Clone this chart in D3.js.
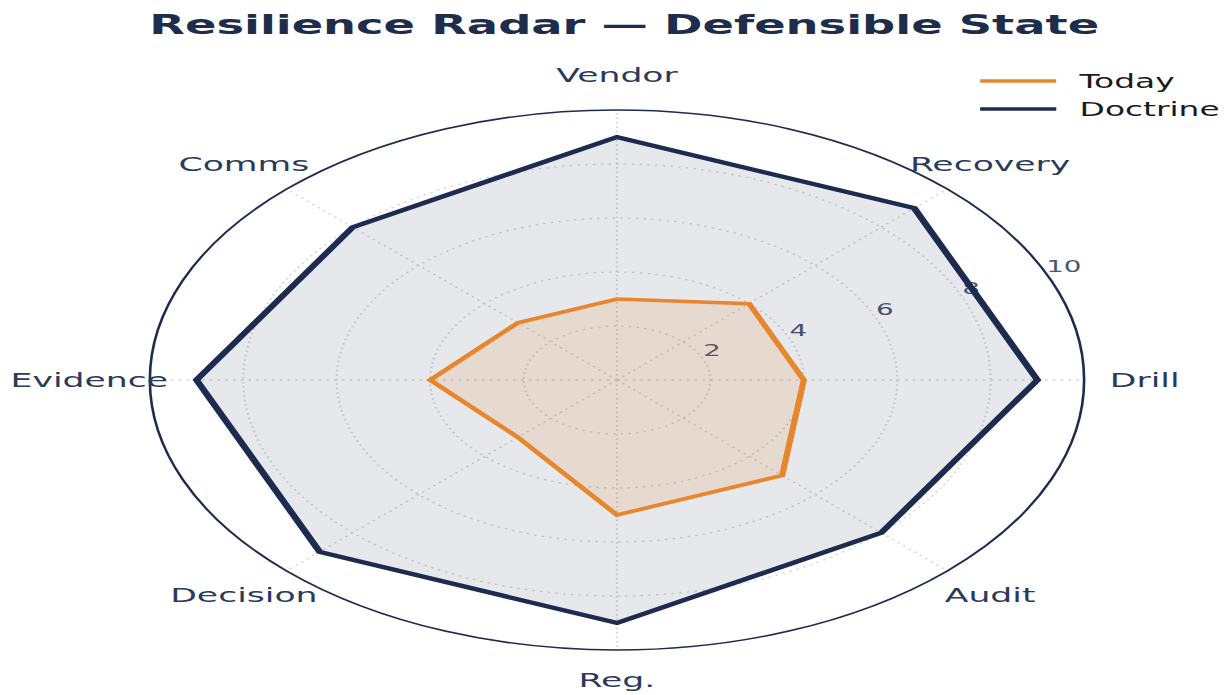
<!DOCTYPE html>
<html>
<head>
<meta charset="utf-8">
<script src="https://cdn.jsdelivr.net/npm/d3@7"></script>
<style>
  html, body { margin: 0; padding: 0; background: #fff; }
  svg { display: block; }
  text { font-family: "DejaVu Sans", sans-serif; }
</style>
</head>
<body>
<div id="chart"></div>
<script>
// data
var axes = ["Drill", "Recovery", "Vendor", "Comms", "Evidence", "Decision", "Reg.", "Audit"];
var today = [4, 4, 3, 3, 4, 3, 5, 5];
var doctrine = [9, 9, 9, 8, 9, 9, 9, 8];
var radialTicks = [2, 4, 6, 8, 10];
var seriesNames = ["Today", "Doctrine"];

// page is 1231x695, drawing space is narrower and stretched to fit
var svgWidth = 1231;
var svgHeight = 695;
var viewW = 711.5;

var cx = 356.6;
var cy = 380;
var radius = 270;

var orange = "#e8862e";
var navy = "#1c2b4f";

var svg = d3.select("#chart")
  .append("svg")
    .attr("width", svgWidth)
    .attr("height", svgHeight)
    .attr("viewBox", "0 0 " + viewW + " " + svgHeight)
    .attr("preserveAspectRatio", "none");

// title
svg.append("text")
  .attr("x", 360.8)
  .attr("y", 34)
  .attr("text-anchor", "middle")
  .style("font-size", "26.8px")
  .style("font-weight", "bold")
  .style("fill", "#1f2d4d")
  .text("Resilience Radar \u2014 Defensible State");

var g = svg.append("g")
  .attr("transform", "translate(" + cx + "," + cy + ")");

var r = d3.scaleLinear().domain([0, 10]).range([0, radius]);

// angle of each category, counterclockwise from the right
var angle = d3.scaleLinear().domain([0, axes.length]).range([0, 2 * Math.PI]);

// grid circles
g.append("g")
  .selectAll("circle")
  .data(radialTicks.filter(function(d) { return d < 10; }))
  .enter()
  .append("circle")
    .attr("r", function(d) { return r(d); })
    .style("fill", "none")
    .style("stroke", "#d6d8de")
    .style("stroke-width", 1.3)
    .style("stroke-dasharray", "1.5,3");

// spokes
g.append("g")
  .selectAll("line")
  .data(axes)
  .enter()
  .append("line")
    .attr("x1", 0)
    .attr("y1", 0)
    .attr("x2", function(d, i) { return r(10) * Math.cos(angle(i)); })
    .attr("y2", function(d, i) { return -r(10) * Math.sin(angle(i)); })
    .style("stroke", "#d6d8de")
    .style("stroke-width", 1.3)
    .style("stroke-dasharray", "1.5,3");

// radial tick labels along 22.5 degrees (under the traces)
var tickAngle = Math.PI / 8;
g.append("g")
  .selectAll("text")
  .data(radialTicks)
  .enter()
  .append("text")
    .attr("x", function(d) {
      var along = r(d) + 4 + 4 * String(d).length;
      return along * Math.cos(tickAngle) - 6 * Math.sin(tickAngle);
    })
    .attr("y", function(d) {
      var along = r(d) + 4 + 4 * String(d).length;
      return -(along * Math.sin(tickAngle) + 6 * Math.cos(tickAngle));
    })
    .attr("text-anchor", "middle")
    .attr("dominant-baseline", "central")
    .style("font-size", "16px")
    .style("fill", "#4a5670")
    .text(function(d) { return d; });

// traces
var line = d3.lineRadial()
  .angle(function(d, i) { return Math.PI / 2 - angle(i); })
  .radius(function(d) { return r(d); })
  .curve(d3.curveLinearClosed);

g.append("path")
  .datum(doctrine)
  .attr("d", line)
  .style("fill", navy)
  .style("fill-opacity", 0.11)
  .style("stroke", navy)
  .style("stroke-width", 4.2)
  .style("stroke-linejoin", "miter");

g.append("path")
  .datum(today)
  .attr("d", line)
  .style("fill", orange)
  .style("fill-opacity", 0.15)
  .style("stroke", orange)
  .style("stroke-width", 3.6)
  .style("stroke-linejoin", "miter");

// outer circle
g.append("circle")
  .attr("r", r(10))
  .style("fill", "none")
  .style("stroke", navy)
  .style("stroke-width", 1.5);

// category labels (bottom one pulled in a little so it stays on the page)
function labelR(i) { return Math.sin(angle(i)) < -0.9 ? 300 : 305; }
g.append("g")
  .selectAll("text")
  .data(axes)
  .enter()
  .append("text")
    .attr("x", function(d, i) { return labelR(i) * Math.cos(angle(i)); })
    .attr("y", function(d, i) { return -labelR(i) * Math.sin(angle(i)); })
    .attr("text-anchor", "middle")
    .attr("dominant-baseline", "central")
    .style("font-size", "20px")
    .style("fill", "#2a3a5c")
    .text(function(d) { return d; });

// legend
var legend = svg.append("g")
  .selectAll("g")
  .data(seriesNames)
  .enter()
  .append("g")
    .attr("transform", function(d, i) { return "translate(566.5," + (81 + i * 28) + ")"; });

legend.append("line")
  .attr("x1", 0)
  .attr("x2", 44)
  .style("stroke", function(d, i) { return i === 0 ? orange : navy; })
  .style("stroke-width", 3.5);

legend.append("text")
  .attr("x", 57.5)
  .attr("dominant-baseline", "central")
  .style("font-size", "19px")
  .style("fill", "#1a1a1a")
  .text(function(d) { return d; });
</script>
</body>
</html>
